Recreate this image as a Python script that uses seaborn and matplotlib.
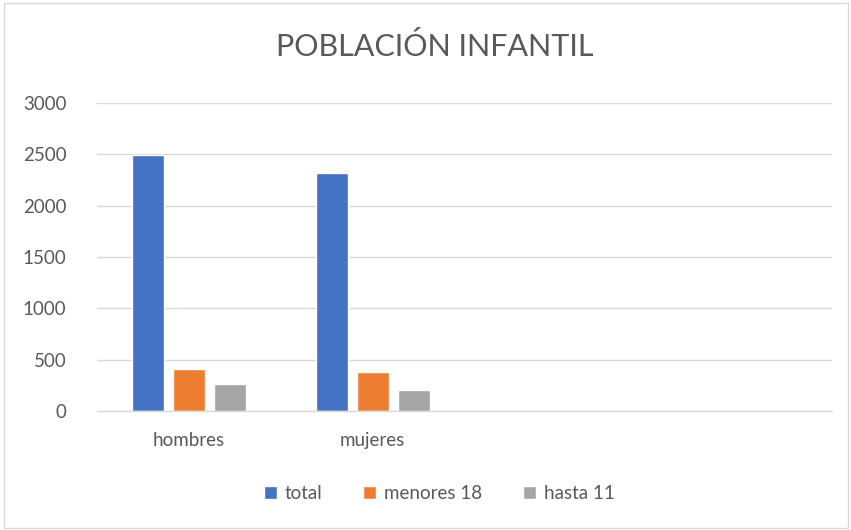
import matplotlib
matplotlib.use("Agg")
import matplotlib.pyplot as plt
import seaborn as sns
import pandas as pd
from matplotlib.patches import Rectangle

categories = ["hombres", "mujeres"]
series = ["total", "menores 18", "hasta 11"]
total = [2490, 2320]
menores18 = [407, 378]
hasta11 = [260, 200]
colors = ["#4472C4", "#ED7D31", "#A5A5A5"]

rows = []
for s, vals in zip(series, [total, menores18, hasta11]):
    for c, v in zip(categories, vals):
        rows.append({"cat": c, "serie": s, "valor": v})
df = pd.DataFrame(rows)

sns.set_theme(style="white")
plt.rcParams["font.family"] = ["Lato", "DejaVu Sans"]

fig = plt.figure(figsize=(8.51, 5.30), dpi=100)
ax = fig.add_axes([0.114, 0.2245, 0.864, 0.581])

sns.barplot(data=df, x="cat", y="valor", hue="serie", order=categories,
            hue_order=series, palette=colors, width=0.669, gap=0.22,
            saturation=1, ax=ax, legend=True)

ax.set_xlim(-0.5, 3.5)
ax.set_ylim(0, 3000)
ax.set_yticks(range(0, 3001, 500))
ax.yaxis.grid(True, color="#D9D9D9", linewidth=1)
ax.set_axisbelow(True)
for side in ["left", "right", "top"]:
    ax.spines[side].set_visible(False)
ax.spines["bottom"].set_color("#D9D9D9")
ax.spines["bottom"].set_linewidth(1)
ax.tick_params(axis="both", length=0, labelsize=13.5, colors="#595959")
ax.tick_params(axis="x", pad=15)
ax.tick_params(axis="y", pad=22)
ax.set_xlabel("")
ax.set_ylabel("")

fig.suptitle("POBLACIÓN INFANTIL", x=0.511, y=0.94, fontsize=22, color="#595959")

handles, labels = ax.get_legend_handles_labels()
ax.legend_.remove()
fig.legend(handles, labels, loc="center", bbox_to_anchor=(0.516, 0.068), ncol=3,
           frameon=False, fontsize=13.5, labelcolor="#595959", handlelength=0.7,
           handleheight=0.7, handletextpad=0.4, columnspacing=2.2)

fig.patches.append(Rectangle((0.005, 0.004), 0.992, 0.99, transform=fig.transFigure,
                             fill=False, edgecolor="#D9D9D9", linewidth=1))

fig.savefig("out.png", dpi=100)
